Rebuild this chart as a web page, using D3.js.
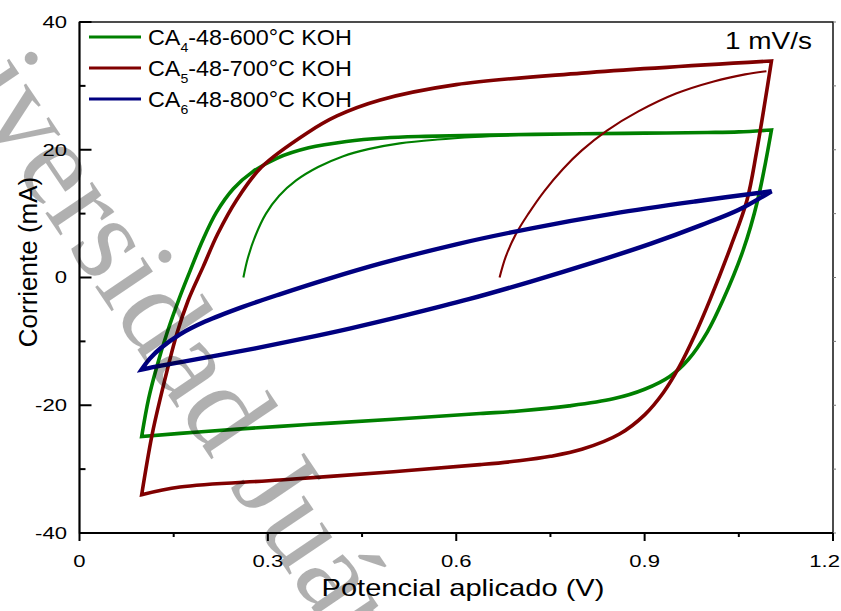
<!DOCTYPE html>
<html><head><meta charset="utf-8">
<script src="https://cdnjs.cloudflare.com/ajax/libs/d3/7.8.5/d3.min.js"></script>
<style>
html,body{margin:0;padding:0;background:#fff;}
svg{display:block;}
text{font-family:"Liberation Sans",Arial,sans-serif;fill:#000;}
</style></head>
<body>
<svg id="chart" width="841" height="611"></svg>
<script>
// ---------- data ----------
const xTicks = [0, 0.3, 0.6, 0.9, 1.2];
const xMinorTicks = [0.15, 0.45, 0.75, 1.05];
const yTicks = [-40, -20, 0, 20, 40];
const yMinorTicks = [-30, -10, 10, 30];

const seriesNames = ["CA4-48-600°C KOH", "CA5-48-700°C KOH", "CA6-48-800°C KOH"];
const seriesColors = ["#008000", "#800000", "#000080"];

// CA4 (600 °C): first sweep, forward (anodic) branch, reverse (cathodic) branch  [V, mA]
const ca4Initial = [[0.261,0],[0.268,3],[0.28,6.5],[0.297,10],[0.318,12.8],[0.345,15.2],[0.38,17.3],[0.42,19],[0.46,20.1],[0.51,21],[0.57,21.6],[0.63,22],[0.7,22.3]];
const ca4Forward = [[0.099,-24.9],[0.11,-19],[0.123,-14],[0.14,-8.5],[0.158,-3.5],[0.176,1],[0.196,5.8],[0.218,10.2],[0.245,13.9],[0.275,16.5],[0.315,18.7],[0.365,20.3],[0.425,21.3],[0.485,21.85],[0.55,22.1],[0.65,22.3],[0.8,22.5],[0.9,22.6],[1.0,22.7],[1.05,22.8],[1.102,23.1]];
const ca4Reverse = [[1.102,23.1],[1.08,12.1],[1.057,4.3],[1.025,-3.5],[1.0,-8.5],[0.97,-12.8],[0.94,-15.5],[0.9,-17.5],[0.85,-19],[0.78,-20.1],[0.7,-20.9],[0.638,-21.3],[0.5,-22.2],[0.4,-22.8],[0.319,-23.3],[0.2,-24.1],[0.099,-24.9]];

// CA5 (700 °C)
const ca5Initial = [[0.669,0],[0.679,3.3],[0.695,6.8],[0.715,10],[0.74,13.5],[0.77,17],[0.8,19.9],[0.84,23],[0.89,26],[0.95,28.8],[1.01,30.7],[1.06,31.8],[1.094,32.3]];
const ca5Forward = [[0.099,-34],[0.115,-24.9],[0.128,-19.2],[0.155,-8.8],[0.173,-3.6],[0.197,1.7],[0.22,6.8],[0.25,12.1],[0.29,17.3],[0.362,22.6],[0.41,25.3],[0.479,27.8],[0.6,30.2],[0.8,32],[1.102,33.9]];
const ca5Reverse = [[1.102,33.9],[1.092,27.7],[1.078,19.5],[1.063,12.1],[1.037,4.8],[1.004,-3.5],[0.98,-9],[0.955,-14],[0.93,-18],[0.9,-21.5],[0.86,-24.5],[0.8,-26.9],[0.75,-28],[0.7,-28.7],[0.638,-29.3],[0.5,-30.4],[0.319,-31.7],[0.16,-32.8],[0.099,-34]];

// CA6 (800 °C)
const ca6Forward = [[0.099,-14.4],[0.112,-12.7],[0.13,-11],[0.16,-8.9],[0.2,-6.9],[0.26,-4.6],[0.32,-2.6],[0.4,-0.1],[0.48,2.2],[0.6,5.2],[0.72,7.7],[0.85,10],[0.98,11.9],[1.102,13.5]];
const ca6Reverse = [[1.102,13.5],[1.05,10.6],[0.99,8.2],[0.91,5.3],[0.82,2.4],[0.72,-0.6],[0.62,-3.4],[0.52,-5.9],[0.43,-8],[0.35,-9.7],[0.28,-11.1],[0.22,-12.2],[0.17,-13.1],[0.13,-13.8],[0.099,-14.4]];

const scanRateLabel = "1 mV/s";
const xTitle = "Potencial aplicado (V)";
const yTitle = "Corriente (mA)";
const watermarkText = "Universidad Juárez del Estado de Durango";

// ---------- drawing ----------
const svg = d3.select("#chart");
const x = d3.scaleLinear().domain([0, 1.2]).range([79.5, 833]);
const y = d3.scaleLinear().domain([-40, 40]).range([533, 22]);

const line = d3.line().x(d => x(d[0])).y(d => y(d[1])).curve(d3.curveCatmullRom.alpha(0.5));
function loopPath(fwd, rev) {
  const a = line(fwd);
  const b = line(rev).replace(/^M[^A-Za-z]*/, "");
  return a + b + "Z";
}

function fitText(sel, targetW) {
  const w = sel.node().getComputedTextLength();
  const sx = targetW / w;
  const ax = +sel.attr("x"), ay = +sel.attr("y");
  sel.attr("transform", `translate(${ax},${ay}) scale(${sx},1) translate(${-ax},${-ay})`);
}

const plot = svg.append("g");
const loops = [
  {fwd: ca4Forward, rev: ca4Reverse, init: ca4Initial, c: seriesColors[0], w: 3.6},
  {fwd: ca5Forward, rev: ca5Reverse, init: ca5Initial, c: seriesColors[1], w: 3.6},
  {fwd: ca6Forward, rev: ca6Reverse, init: null, c: seriesColors[2], w: 4.4}
];
loops.forEach(s => {
  if (s.init) {
    plot.append("path").attr("d", line(s.init)).attr("fill", "none")
      .attr("stroke", s.c).attr("stroke-width", 2.1);
  }
  plot.append("path").attr("d", loopPath(s.fwd, s.rev)).attr("fill", "none")
    .attr("stroke", s.c).attr("stroke-width", s.w).attr("stroke-linejoin", "miter");
});

// frame
svg.append("rect").attr("x", x(0)).attr("y", y(40)).attr("width", x(1.2) - x(0)).attr("height", y(-40) - y(40))
  .attr("fill", "none").attr("stroke", "#000").attr("stroke-width", 1.4);
svg.append("line").attr("x1", x(0)).attr("x2", x(0)).attr("y1", y(40)).attr("y2", y(-40)).attr("stroke", "#000").attr("stroke-width", 2);
svg.append("line").attr("x1", x(0)).attr("x2", x(1.2)).attr("y1", y(-40)).attr("y2", y(-40)).attr("stroke", "#000").attr("stroke-width", 2);

yTicks.forEach(t => svg.append("line").attr("x1", x(0)).attr("x2", x(0) + 12).attr("y1", y(t)).attr("y2", y(t)).attr("stroke", "#000").attr("stroke-width", 2));
yMinorTicks.forEach(t => svg.append("line").attr("x1", x(0)).attr("x2", x(0) + 6).attr("y1", y(t)).attr("y2", y(t)).attr("stroke", "#000").attr("stroke-width", 2));
yTicks.concat(yMinorTicks).forEach(t => svg.append("line").attr("x1", x(1.2)).attr("x2", x(1.2) + 3).attr("y1", y(t)).attr("y2", y(t)).attr("stroke", "#777").attr("stroke-width", 1));
xTicks.forEach(t => svg.append("line").attr("x1", x(t)).attr("x2", x(t)).attr("y1", y(-40)).attr("y2", y(-40) + 8).attr("stroke", "#000").attr("stroke-width", 2));
xMinorTicks.forEach(t => svg.append("line").attr("x1", x(t)).attr("x2", x(t)).attr("y1", y(-40)).attr("y2", y(-40) + 4).attr("stroke", "#000").attr("stroke-width", 2));

// tick labels
yTicks.forEach(t => {
  svg.append("text").attr("x", 67).attr("y", y(t) + 6).attr("text-anchor", "end")
    .attr("font-size", 17).text(String(t))
    .attr("transform", `translate(67,0) scale(1.3,1) translate(-67,0)`);
});
xTicks.forEach((t, i) => {
  const last = i === xTicks.length - 1;
  const lx = last ? 840 : x(t);
  svg.append("text").attr("x", lx).attr("y", 567).attr("text-anchor", last ? "end" : "middle")
    .attr("font-size", 17).text(t === 0 ? "0" : d3.format(".1f")(t))
    .attr("transform", `translate(${lx},0) scale(1.3,1) translate(${-lx},0)`);
});

// axis titles
svg.append("text").attr("x", 0).attr("y", 0).attr("text-anchor", "middle")
  .attr("font-size", 26).attr("transform", "translate(37,262) rotate(-90)").text(yTitle);
const xt = svg.append("text").attr("x", 463).attr("y", 596).attr("text-anchor", "middle")
  .attr("font-size", 24).text(xTitle);
fitText(xt, 283);

const sr = svg.append("text").attr("x", 725).attr("y", 49).attr("font-size", 23).text(scanRateLabel);
fitText(sr, 87);

// legend
const legY = [37, 68, 99];
seriesNames.forEach((name, i) => {
  svg.append("line").attr("x1", 89).attr("x2", 141).attr("y1", legY[i]).attr("y2", legY[i])
    .attr("stroke", seriesColors[i]).attr("stroke-width", 3);
  const m = name.match(/^CA(\d)(.*)$/);
  const t = svg.append("text").attr("x", 148).attr("y", legY[i] + 8).attr("font-size", 21.5);
  t.append("tspan").text("CA");
  t.append("tspan").attr("font-size", 13).attr("dy", 7).text(m[1]);
  t.append("tspan").attr("dy", -7).text(m[2]);
  fitText(t, 204);
});

// watermark (on top, translucent)
svg.append("text").attr("x", 0).attr("y", 0)
  .attr("transform", "translate(-124,-38) rotate(56)")
  .style("font-family", '"Liberation Serif","Times New Roman",serif')
  .attr("font-size", 123).style("fill", "#000").attr("fill-opacity", 0.31)
  .text(watermarkText);
</script>
</body></html>
